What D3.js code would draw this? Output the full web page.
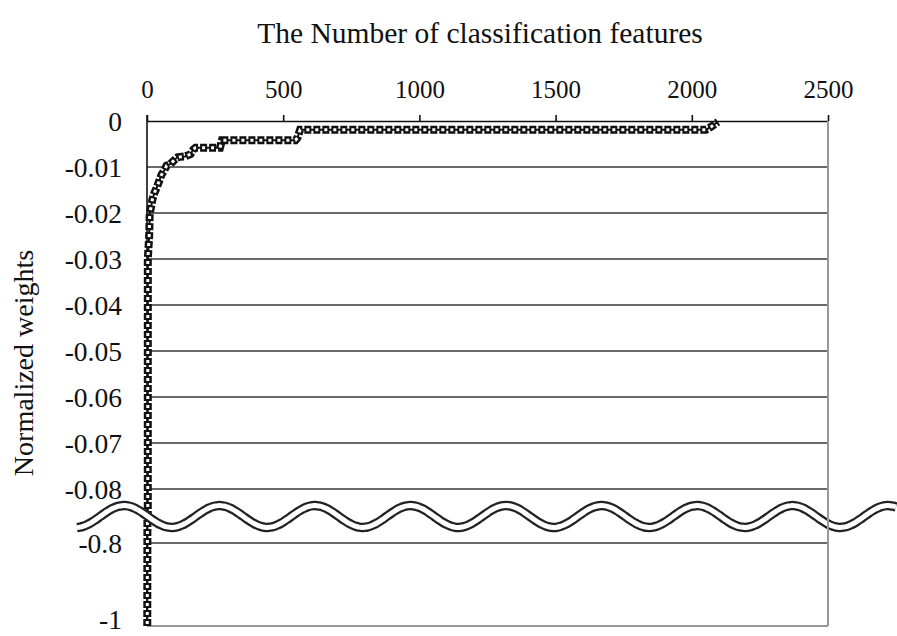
<!DOCTYPE html>
<html lang="en">
<head>
<meta charset="utf-8">
<title>Normalized weights</title>
<script src="https://d3js.org/d3.v7.min.js"></script>
<style>
    body { margin: 0; background: #fff; }
    text { font-family: "Liberation Serif", "Times New Roman", serif; fill: #111; }
</style>
</head>
<body>
<svg id="chart" width="897" height="636"></svg>
<script>

    // sorted feature weights (feature index, weight)
    var features = [1, 3, 5, 8, 10, 14, 20, 28, 37, 45, 53, 63, 72, 85, 100, 112, 122, 140, 160, 170, 178, 268, 275, 545, 552, 562, 2052, 2070, 2086, 2096];
    var weights = [-1.0, -0.03, -0.028, -0.025, -0.02, -0.019, -0.017, -0.0155, -0.0143, -0.013, -0.0117, -0.0108, -0.0097, -0.0094, -0.0085, -0.0079, -0.0078, -0.0077, -0.0072, -0.0062, -0.0058, -0.0058, -0.0042, -0.0042, -0.0037, -0.0019, -0.0019, -0.0013, -0.0006, -0.0002];

    var xTicks = [0, 500, 1000, 1500, 2000, 2500];
    var yTicksTop = [0, -0.01, -0.02, -0.03, -0.04, -0.05, -0.06, -0.07, -0.08];
    var yTicksBottom = [-0.8, -1];

    var data = features.map(function (f, i) { return {x: f, y: weights[i]}; });

    var width = 897, height = 636;
    var left = 147, right = 828, breakY = 516;

    var x = d3.scaleLinear().domain([0, 2500]).range([left, right]);
    var yTop = d3.scaleLinear().domain([0, -0.08]).range([121, 489]);
    var yBot = d3.scaleLinear().domain([-0.8, -1]).range([543, 626]);

    var svg = d3.select("#chart");

    var defs = svg.append("defs");
    defs.append("clipPath").attr("id", "clipTop")
        .append("rect").attr("x", 0).attr("y", 0).attr("width", width).attr("height", breakY);
    defs.append("clipPath").attr("id", "clipBot")
        .append("rect").attr("x", 0).attr("y", breakY).attr("width", width).attr("height", height - breakY);

    // gridlines
    svg.append("g").selectAll("line")
        .data(yTicksTop.slice(1))
        .enter().append("line")
        .attr("x1", left).attr("x2", right)
        .attr("y1", d => yTop(d)).attr("y2", d => yTop(d))
        .style("stroke", "#3a3a3a").style("stroke-width", 1.6);
    svg.append("line")
        .attr("x1", left).attr("x2", right)
        .attr("y1", yBot(-0.8)).attr("y2", yBot(-0.8))
        .style("stroke", "#3a3a3a").style("stroke-width", 1.6);

    // bottom border
    svg.append("line")
        .attr("x1", left).attr("x2", right)
        .attr("y1", yBot(-1)).attr("y2", yBot(-1))
        .style("stroke", "#999").style("stroke-width", 2);

    // top axis
    var xAxis = svg.append("g")
        .attr("transform", "translate(0," + yTop(0) + ")")
        .call(d3.axisTop(x).tickValues(xTicks).tickSize(6).tickSizeOuter(0).tickPadding(17).tickFormat(d3.format("d")));
    xAxis.select(".domain").style("stroke", "#111").style("stroke-width", 1.6);
    xAxis.selectAll(".tick line").style("stroke", "#111").style("stroke-width", 1.6);
    xAxis.selectAll("text").style("font-size", "25px").style("font-family", "Liberation Serif").style("fill", "#111");

    // left labels
    var yLabels = svg.append("g");
    yLabels.selectAll("text.top")
        .data(yTicksTop)
        .enter().append("text")
        .attr("x", 122).attr("y", d => yTop(d)).attr("dy", "0.35em")
        .attr("text-anchor", "end")
        .style("font-size", "27.5px")
        .text(d => d === 0 ? "0" : d3.format(".2f")(d).replace("−", "-"));
    yLabels.selectAll("text.bot")
        .data(yTicksBottom)
        .enter().append("text")
        .attr("x", 122).attr("y", d => yBot(d) + (d === -1 ? -7 : 0)).attr("dy", "0.35em")
        .attr("text-anchor", "end")
        .style("font-size", "27.5px")
        .text(d => d === -1 ? "-1" : "-0.8");

    // left axis line
    svg.append("line")
        .attr("x1", left).attr("x2", left)
        .attr("y1", 115).attr("y2", yBot(-1))
        .style("stroke", "#111").style("stroke-width", 1.6);

    // data series, drawn on both halves of the broken axis
    function drawSeries(scaleY, clipId) {
        var line = d3.line().x(d => x(d.x)).y(d => scaleY(d.y));
        var g = svg.append("g").attr("clip-path", "url(#" + clipId + ")");
        g.append("path").datum(data).attr("d", line)
            .style("fill", "none").style("stroke", "#111").style("stroke-width", 2);
        g.append("path").datum(data).attr("d", line)
            .style("fill", "none").style("stroke", "#111").style("stroke-width", 8)
            .style("stroke-dasharray", "7,2");
        g.append("path").datum(data).attr("d", line)
            .style("fill", "none").style("stroke", "#fff").style("stroke-width", 3)
            .style("stroke-dasharray", "3,6").style("stroke-dashoffset", -2);
    }
    drawSeries(yTop, "clipTop");
    drawSeries(yBot, "clipBot");

    // axis break wave
    var wave = d3.line().curve(d3.curveBasis)
        .x(d => d)
        .y(d => breakY + 0.5 - 11 * Math.cos(2 * Math.PI * (d - 124) / 95.5));
    var waveX = d3.range(77, 898, 3);
    svg.append("path").datum(waveX).attr("d", wave)
        .style("fill", "none").style("stroke", "#222").style("stroke-width", 9.5);
    svg.append("path").datum(waveX).attr("d", wave)
        .style("fill", "none").style("stroke", "#fff").style("stroke-width", 5);

    // right border
    svg.append("line")
        .attr("x1", right).attr("x2", right)
        .attr("y1", yTop(0)).attr("y2", yBot(-1))
        .style("stroke", "#999").style("stroke-width", 2);

    // titles
    svg.append("text")
        .attr("x", 480).attr("y", 43)
        .attr("text-anchor", "middle")
        .style("font-size", "29.5px")
        .text("The Number of classification features");

    svg.append("text")
        .attr("transform", "translate(33,363) rotate(-90)")
        .attr("text-anchor", "middle")
        .style("font-size", "28px")
        .text("Normalized weights");

</script>
</body>
</html>
